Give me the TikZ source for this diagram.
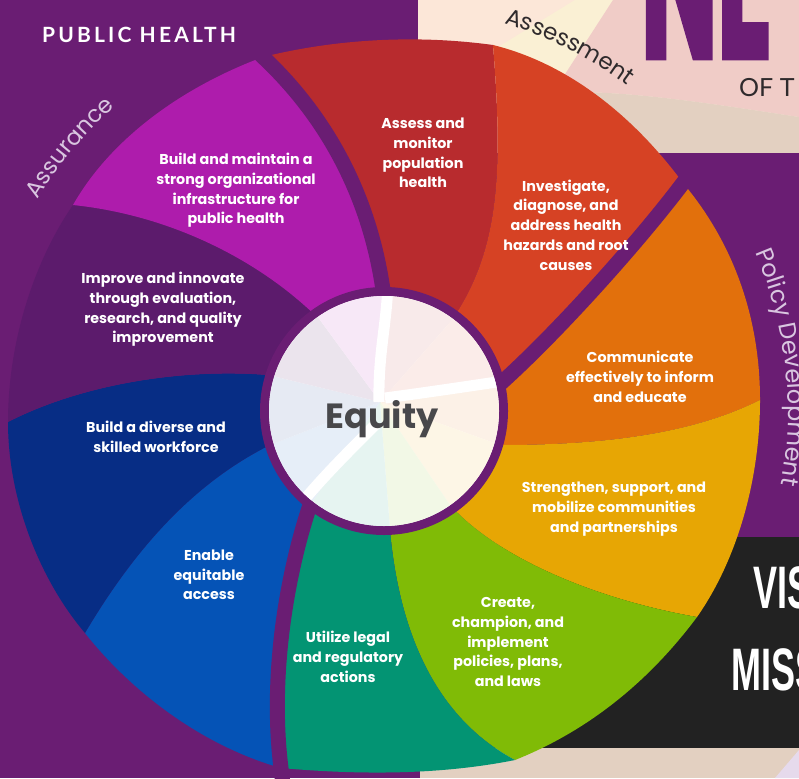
\documentclass[tikz,border=0pt]{standalone}
\usepackage{fontspec}
\setmainfont{Poppins}
\newfontfamily\latof{Lato}
\newfontfamily\libsans{Liberation Sans}
\usetikzlibrary{decorations.text,calc}

\definecolor{bgp}{HTML}{6A1D73}
\definecolor{cRed}{HTML}{B82B2E}
\definecolor{cORed}{HTML}{D64224}
\definecolor{cOrange}{HTML}{E2700C}
\definecolor{cYellow}{HTML}{E7A604}
\definecolor{cGreen}{HTML}{80BB06}
\definecolor{cTeal}{HTML}{039473}
\definecolor{cBlue}{HTML}{0553B6}
\definecolor{cDBlue}{HTML}{072D85}
\definecolor{cImp}{HTML}{5C1B6C}
\definecolor{cMag}{HTML}{AE1CAC}
\definecolor{pCream}{HTML}{FCE7D8}
\definecolor{pYellow}{HTML}{FAF0D4}
\definecolor{pPink}{HTML}{F0CCC7}
\definecolor{pBeige}{HTML}{E3D0C1}
\definecolor{boxblack}{HTML}{222222}
\definecolor{lav}{HTML}{E6DAEC}
\definecolor{eqgray}{HTML}{48484B}
\definecolor{arclav}{HTML}{D9C6E0}
\definecolor{assdark}{HTML}{2F2A2C}

\tikzset{
  seglabel/.style={text=white, align=center, inner sep=0pt,
    font=\fontsize{14.3}{19.7}\selectfont\bfseries},
  gapline/.style={draw=bgp, line width=15pt},
  bandline/.style={draw=white, line width=11pt},
}

\begin{document}
\begin{tikzpicture}[x=1pt,y=-1pt]
\useasboundingbox (0,0) rectangle (799,778);
\clip (0,0) rectangle (799,778);
\fill[bgp] (0,0) rectangle (799,778);

% top-right panel
\fill[pCream] (418,0) rectangle (799,153);
\fill[pYellow] (575,0) -- (613,0) -- (560,82) -- (490,52) -- cycle;
\fill[pPink] (613,0) -- (799,0) -- (799,117) .. controls (720,105) and (640,92) .. (573,92) -- (560,82) -- cycle;
\fill[pBeige] (560,82) -- (573,92) .. controls (640,92) and (720,105) .. (799,117) -- (799,153) -- (540,153) -- cycle;

% bottom-right panel
\fill[pBeige] (420,748) rectangle (799,778);
\fill[lav] (775,778) -- (799,750) -- (799,778) -- cycle;
\fill[boxblack] (500,537) rectangle (799,748);

% titles
\node[anchor=base west, inner sep=0pt, text=bgp, font=\fontsize{230}{230}\selectfont\bfseries\addfontfeatures{FakeBold=3}] (ne) at (641,57) {\smash{\scalebox{0.44}[1]{NE}}};
\node[anchor=base west, inner sep=0pt, text=assdark, font=\latof\fontsize{25}{25}\selectfont] (oft) at (739,97) {OF T};
\node[anchor=base west, inner sep=0pt, text=white, font=\latof\bfseries\fontsize{21}{21}\selectfont\addfontfeatures{LetterSpace=15}] (ph) at (42,43) {PUBLIC HEALTH};
\node[anchor=base west, inner sep=0pt, text=white, font=\libsans\bfseries\fontsize{60}{60}\selectfont] (vis) at (753,608) {\scalebox{0.6}[1]{VIS}};
\node[anchor=base west, inner sep=0pt, text=white, font=\libsans\bfseries\fontsize{60}{60}\selectfont] (miss) at (731,690) {\scalebox{0.6}[1]{MISS}};

\coordinate (C) at (384,411);
\coordinate (Ci) at (380,402);

% wheel segments
\fill[cRed] (C) -- (383,290) .. controls (370,200) and (330,120) .. (263,57) .. controls (340,38) and (420,35) .. (493,45) .. controls (503,170) and (500,250) .. (452,320) -- cycle;
\fill[cORed] (C) -- (452,320) .. controls (500,250) and (503,170) .. (493,45) .. controls (570,64) and (635,118) .. (683,183) .. controls (640,240) and (560,330) .. (500,384) -- cycle;
\fill[cOrange] (C) -- (500,384) .. controls (560,330) and (640,240) .. (683,183) .. controls (735,245) and (760,320) .. (760,400) .. controls (690,435) and (600,445) .. (500,445) -- cycle;
\fill[cYellow] (C) -- (500,445) .. controls (600,445) and (690,435) .. (760,400) .. controls (760,480) and (737,560) .. (697,617) .. controls (600,600) and (500,560) .. (450,505) -- cycle;
\fill[cGreen] (C) -- (450,505) .. controls (500,560) and (600,600) .. (697,617) .. controls (650,680) and (590,730) .. (515,760) .. controls (440,720) and (400,640) .. (390,530) -- cycle;
\fill[cTeal] (C) -- (390,530) .. controls (400,640) and (440,720) .. (515,760) .. controls (440,775) and (360,775) .. (281,768) .. controls (270,680) and (285,580) .. (310,505) -- cycle;
\fill[cBlue] (C) -- (310,505) .. controls (285,580) and (270,680) .. (281,768) .. controls (200,745) and (130,690) .. (85,633) .. controls (140,540) and (200,480) .. (270,445) -- cycle;
\fill[cDBlue] (C) -- (270,445) .. controls (200,480) and (140,540) .. (85,633) .. controls (40,580) and (8,500) .. (8,422) .. controls (80,385) and (180,368) .. (268,375) -- cycle;
\fill[cImp] (C) -- (268,375) .. controls (180,368) and (80,385) .. (8,422) .. controls (8,340) and (35,260) .. (73,205) .. controls (170,215) and (260,260) .. (320,320) -- cycle;
\fill[cMag] (C) -- (320,320) .. controls (260,260) and (170,215) .. (73,205) .. controls (110,140) and (180,88) .. (263,57) .. controls (330,120) and (370,200) .. (383,290) -- cycle;

% gaps between the three groups
\draw[gapline] (383,290) .. controls (370,200) and (330,120) .. (263,57) -- (252,46);
\draw[gapline] (500,384) .. controls (560,330) and (640,240) .. (683,183) -- (693,170);
\draw[gapline] (310,505) .. controls (285,580) and (270,680) .. (281,768) -- (283,785);

% equity circle
\fill[bgp] (C) circle[radius=124];
\begin{scope}
  \clip (C) circle[radius=115];
  \fill[white] (C) circle[radius=116];
  \fill[cRed!10!white]    (Ci) -- ($(Ci)+(-88.5:250)$) -- ($(Ci)+(-48.7:250)$) -- cycle;
  \fill[cORed!10!white]   (Ci) -- ($(Ci)+(-48.7:250)$) -- ($(Ci)+(-8.5:250)$) -- cycle;
  \fill[cOrange!10!white] (Ci) -- ($(Ci)+(-8.5:250)$) -- ($(Ci)+(19.7:250)$) -- cycle;
  \fill[cYellow!10!white] (Ci) -- ($(Ci)+(19.7:250)$) -- ($(Ci)+(55.8:250)$) -- cycle;
  \fill[cGreen!10!white]  (Ci) -- ($(Ci)+(55.8:250)$) -- ($(Ci)+(85.5:250)$) -- cycle;
  \fill[cTeal!10!white]   (Ci) -- ($(Ci)+(85.5:250)$) -- ($(Ci)+(124.2:250)$) -- cycle;
  \fill[cBlue!10!white]   (Ci) -- ($(Ci)+(124.2:250)$) -- ($(Ci)+(158.6:250)$) -- cycle;
  \fill[cDBlue!10!white]  (Ci) -- ($(Ci)+(158.6:250)$) -- ($(Ci)+(193.6:250)$) -- cycle;
  \fill[cImp!12!white]    (Ci) -- ($(Ci)+(193.6:250)$) -- ($(Ci)+(233.8:250)$) -- cycle;
  \fill[cMag!10!white]    (Ci) -- ($(Ci)+(233.8:250)$) -- ($(Ci)+(271.5:250)$) -- cycle;
  \draw[bandline] (379,402) .. controls (378,350) and (388,320) .. (388,275);
  \draw[bandline] (385,398) .. controls (430,392) and (470,386) .. (510,380);
  \draw[bandline] (376,424) .. controls (350,450) and (320,480) .. (300,505);
\end{scope}
\node[anchor=base, inner sep=0pt, text=eqgray, font=\fontsize{35}{35}\selectfont\bfseries] (equity) at (382,428) {Equity};

% segment labels
\node[seglabel] (l1) at (423,153) {Assess and\\monitor\\population\\health};
\node[seglabel] (l2) at (566,225) {Investigate,\\diagnose, and\\address health\\hazards and root\\causes};
\node[seglabel] (l3) at (640,377) {Communicate\\effectively to inform\\and educate};
\node[seglabel] (l4) at (614,509) {Strengthen, support, and\\mobilize communities\\and partnerships};
\node[seglabel] (l5) at (508,642) {Create,\\champion, and\\implement\\policies, plans,\\and laws};
\node[seglabel] (l6) at (348,657) {Utilize legal\\and regulatory\\actions};
\node[seglabel] (l7) at (209,575) {Enable\\equitable\\access};
\node[seglabel] (l8) at (156,437) {Build a diverse and\\skilled workforce};
\node[seglabel] (l9) at (163,309.5) {Improve and innovate\\through evaluation,\\research, and quality\\improvement};
\node[seglabel] (l10) at (236,190.5) {Build and maintain a\\strong organizational\\infrastructure for\\public health};

% arc labels
\path[decorate, decoration={text along path, text align=center, text color=assdark,
  text={|\fontsize{23}{23}\selectfont|Assessment}}]
  ($(C)+(-88:406)$) arc[start angle=-88, end angle=-38, radius=406];
\path[decorate, decoration={text along path, text align=center, text color=arclav,
  text={|\fontsize{24}{24}\selectfont|Policy Development}}]
  ($(C)+(-31.3:404)$) arc[start angle=-31.3, end angle=18.7, radius=404];
\path[decorate, decoration={text along path, text align=center, text color=arclav,
  text={|\fontsize{23}{23}\selectfont|Assurance}}]
  ($(C)+(-162:406)$) arc[start angle=-162, end angle=-118, radius=406];
\end{tikzpicture}
\end{document}
